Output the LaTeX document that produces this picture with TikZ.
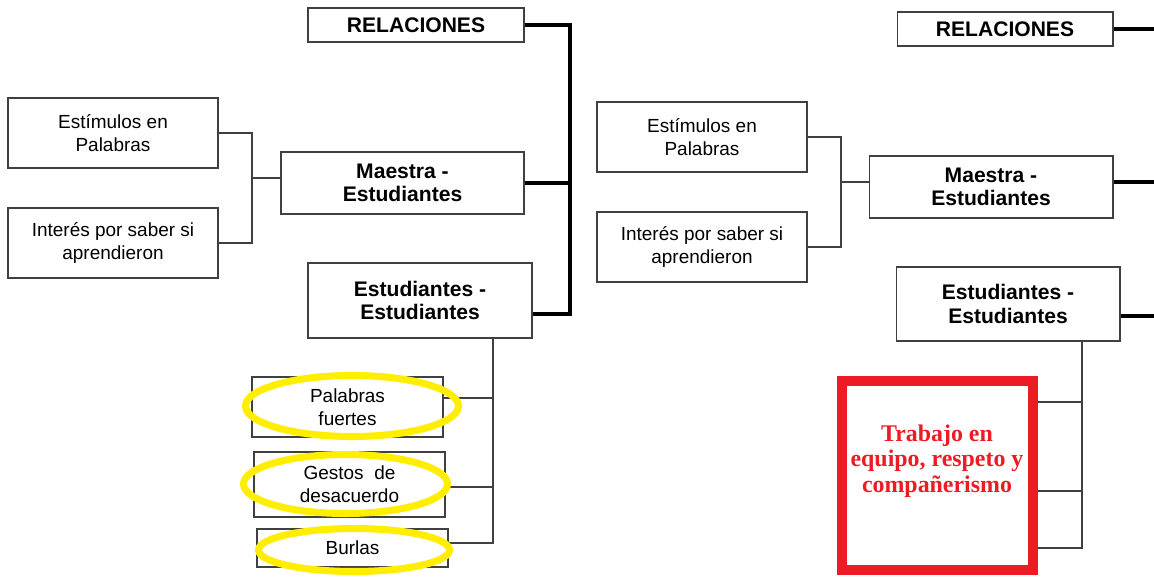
\documentclass[tikz,border=0pt]{standalone}
\usepackage{fontspec}
\setmainfont{Liberation Sans}
\newfontfamily\redserif{Liberation Serif}
\usepackage{tikz}
\definecolor{marker}{RGB}{255,238,0}
\definecolor{redmark}{RGB}{237,28,36}

\begin{document}
\begin{tikzpicture}[x=0.02cm,y=-0.02cm,
  box/.style={draw=black!75,line width=0.6pt,fill=white,align=center,inner sep=2pt,font=\fontsize{10.8}{13}\selectfont},
  headbox/.style={box,font=\fontsize{12}{13.2}\selectfont\bfseries},
  link/.style={draw=black!75,line width=0.7pt},
  spine/.style={line width=2.4pt,color=black},
  hilite/.style={draw=marker,line width=4pt},
  redbox/.style={draw=redmark,line width=5.67pt,fill=white},
  redtext/.style={align=center,text=redmark,font=\redserif\fontsize{13.6}{14.6}\selectfont\bfseries}]

\path[fill=white,use as bounding box] (0,0) rectangle (1154,576);

% Left panel boxes.
\node[headbox,minimum width=4.32cm,minimum height=0.68cm] (relA) at (416,25) {RELACIONES};
\node[box,minimum width=4.2cm,minimum height=1.4cm] (estimA) at (113,133) {Estímulos en\\Palabras};
\node[box,minimum width=4.2cm,minimum height=1.4cm] (interA) at (113,243) {Interés por saber si\\aprendieron};
\node[headbox,minimum width=4.86cm,minimum height=1.24cm,text depth=0pt] (maesA) at (402.5,183) {Maestra -\\Estudiantes};
\node[headbox,minimum width=4.48cm,minimum height=1.5cm] (estuA) at (420,300.5) {Estudiantes -\\Estudiantes};
\node[box,minimum width=3.82cm,minimum height=1.2cm] (palA) at (347.5,407) {Palabras\\fuertes};
\node[box,minimum width=3.82cm,minimum height=1.3cm] (gesA) at (349.5,484.5) {Gestos~~de\\desacuerdo};
\node[box,minimum width=3.82cm,minimum height=0.76cm] (burA) at (352.5,548) {Burlas};

% Brackets of the left panel.
\coordinate (kA) at (252,178);
\draw[link] (estimA.east) -| (kA) |- (interA.east);
\draw[link] (kA) -- (kA -| maesA.west);

\coordinate (jA) at (570,314);
\draw[spine] (relA.east) -| (jA) -- (jA -| estuA.east);
\draw[spine] (maesA.east) -- (maesA.east -| jA);

\coordinate (mA) at (493,338);
\coordinate (pA) at ([yshift=0.18cm]palA.east);
\coordinate (gA) at ([yshift=-0.05cm]gesA.east);
\coordinate (bA) at ([yshift=0.1cm]burA.east);
\draw[link] (mA) |- (bA);
\draw[link] (pA) -- (pA -| mA);
\draw[link] (gA) -- (gA -| mA);

% Yellow marks.
\draw[hilite] (352,406) ellipse (106.5 and 30.5);
\draw[hilite] (345.5,484) ellipse (102 and 29.5);
\draw[hilite] (354,550) ellipse (95.5 and 21.5);

% Right panel boxes.
\node[headbox,minimum width=4.32cm,minimum height=0.68cm] (relB) at (1005,29) {RELACIONES};
\node[box,minimum width=4.2cm,minimum height=1.4cm] (estimB) at (702,137) {Estímulos en\\Palabras};
\node[box,minimum width=4.2cm,minimum height=1.4cm] (interB) at (702,247) {Interés por saber si\\aprendieron};
\node[headbox,minimum width=4.88cm,minimum height=1.24cm,text depth=0pt] (maesB) at (991,187) {Maestra -\\Estudiantes};
\node[headbox,minimum width=4.48cm,minimum height=1.48cm] (estuB) at (1008,304) {Estudiantes -\\Estudiantes};
\node[redbox,minimum width=3.82cm,minimum height=3.78cm] (trab) at (937.5,475.5) {};
\node[redtext] (trabtxt) at (937,461) {Trabajo en\\equipo, respeto y\\compañerismo};

% Brackets of the right panel.
\coordinate (kB) at (841,182);
\draw[link] (estimB.east) -| (kB) |- (interB.east);
\draw[link] (kB) -- (kB -| maesB.west);

\coordinate (edgeB) at (1154,0);
\draw[spine] (relB.east) -- (relB.east -| edgeB);
\draw[spine] ([yshift=0.1cm]maesB.east) -- ([yshift=0.1cm]maesB.east -| edgeB);
\draw[spine] ([yshift=-0.24cm]estuB.east) -- ([yshift=-0.24cm]estuB.east -| edgeB);

\coordinate (mB) at (1082,341);
\coordinate (rB1) at ([yshift=1.47cm]trab.east);
\coordinate (rB2) at ([yshift=-0.31cm]trab.east);
\coordinate (rB3) at ([yshift=-1.45cm]trab.east);
\draw[link] (mB) |- (rB3);
\draw[link] (rB1) -- (rB1 -| mB);
\draw[link] (rB2) -- (rB2 -| mB);
\end{tikzpicture}
\end{document}
